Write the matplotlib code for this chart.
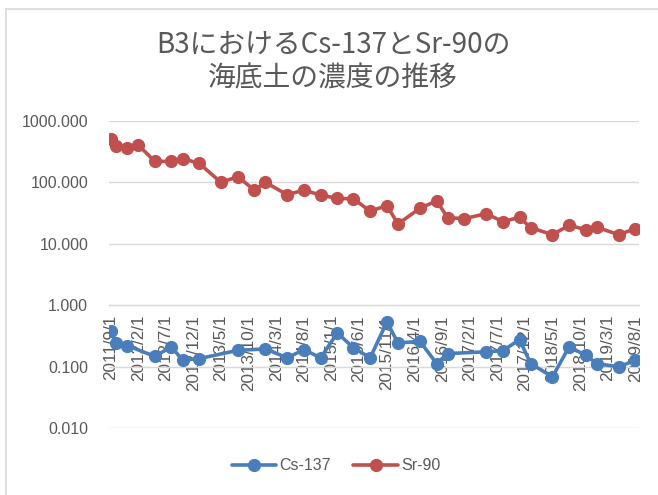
import matplotlib
matplotlib.use("Agg")
import matplotlib.pyplot as plt
import matplotlib.ticker as mticker
from matplotlib.lines import Line2D
import numpy as np
import pandas as pd

# Data
dates = ["2011-09-01", "2011-10-01", "2011-12-01", "2012-02-01", "2012-05-01",
         "2012-08-01", "2012-10-01", "2013-01-01", "2013-05-01", "2013-08-01",
         "2013-11-01", "2014-01-01", "2014-05-01", "2014-08-01", "2014-11-01",
         "2015-02-01", "2015-05-01", "2015-08-01", "2015-11-01", "2016-01-01",
         "2016-05-01", "2016-08-01", "2016-10-01", "2017-01-01", "2017-05-01",
         "2017-08-01", "2017-11-01", "2018-01-01", "2018-05-01", "2018-08-01",
         "2018-11-01", "2019-01-01", "2019-05-01", "2019-08-01"]
cs137 = [0.376, 0.243, 0.22, np.nan, 0.147, 0.21, 0.127, 0.135, np.nan, 0.184,
         np.nan, 0.194, 0.139, 0.189, 0.139, 0.354, 0.202, 0.139, 0.535, 0.243,
         0.258, 0.112, 0.163, np.nan, 0.174, 0.182, 0.275, 0.112, 0.068, 0.21,
         0.153, 0.112, 0.099, 0.127]
sr90 = [500, 390, 357, 405, 220, 220, 245, 204, 100, 124,
        75, 100, 63, 75, 62, 55, 54, 34, 42, 21,
        38, 50, 26.6, 25.7, 31, 23, 27, 18.3, 14.1, 20,
        17, 18.6, 14.1, 17.6]
tick_labels = ["2011/9/1", "2012/2/1", "2012/7/1", "2012/12/1", "2013/5/1",
               "2013/10/1", "2014/3/1", "2014/8/1", "2015/1/1", "2015/6/1",
               "2015/11/1", "2016/4/1", "2016/9/1", "2017/2/1", "2017/7/1",
               "2017/12/1", "2018/5/1", "2018/10/1", "2019/3/1", "2019/8/1"]
title = "B3におけるCs-137とSr-90の\n海底土の濃度の推移"

text_color = "#595959"
grid_color = "#d9d9d9"
blue = "#4a7ebb"
red = "#c0504d"

df = pd.DataFrame({"date": pd.to_datetime(dates), "cs": cs137, "sr": sr90})
cs = df.dropna(subset=["cs"])
ticks = pd.to_datetime(tick_labels, format="%Y/%m/%d")

fig = plt.figure(figsize=(6.58, 4.95), dpi=100)
ax = fig.add_axes([109/658, 1 - 428/495, 530/658, 307/495])

ax.plot(cs["date"], cs["cs"], color=blue, lw=2.6, marker="o", ms=8.5,
        label="Cs-137", solid_capstyle="round")
ax.plot(df["date"], df["sr"], color=red, lw=2.6, marker="o", ms=8.5,
        label="Sr-90", solid_capstyle="round")

ax.set_yscale("log")
ax.set_ylim(0.01, 1000)
ax.yaxis.set_major_locator(mticker.LogLocator(base=10, numticks=10))
ax.yaxis.set_minor_locator(mticker.NullLocator())
ax.yaxis.set_major_formatter(mticker.FuncFormatter(lambda v, p: f"{v:.3f}"))

ax.set_xlim(df["date"].iloc[0] - pd.Timedelta(days=9),
            df["date"].iloc[-1] + pd.Timedelta(days=20))
ax.set_xticks(ticks)
ax.set_xticklabels(tick_labels)

# horizontal axis crosses at 1
for s in ["top", "right", "left"]:
    ax.spines[s].set_visible(False)
ax.spines["bottom"].set_position(("data", 1))
ax.spines["bottom"].set_color(grid_color)
ax.spines["bottom"].set_zorder(0)

ax.yaxis.grid(True, color=grid_color, lw=1)
ax.set_axisbelow(True)
ax.tick_params(axis="both", length=0, colors=text_color)
ax.tick_params(axis="y", pad=15, labelsize=11.5)
ax.tick_params(axis="x", pad=7, labelrotation=90, labelsize=12.3)
for lab in ax.get_xticklabels():
    lab.set_fontfamily("Liberation Sans")
    lab.set_verticalalignment("top")
    lab.set_horizontalalignment("center")
for lab in ax.get_yticklabels():
    lab.set_fontfamily("Liberation Sans")

fig.text(0.506, 1 - 61.5/495, title, ha="center", va="center", fontsize=20,
         color=text_color, family="Noto Sans CJK JP", linespacing=1.2)

leg = fig.legend(loc="center", bbox_to_anchor=(336/658, 1 - 466/495), ncol=2,
                 frameon=False, handlelength=2.8, columnspacing=1.4,
                 handletextpad=0.2, prop={"family": "Liberation Sans", "size": 11.5})
for t in leg.get_texts():
    t.set_color(text_color)

# chart border (left and top edges visible)
fig.add_artist(Line2D([6/658, 6/658], [0, 1 - 9/495], color=grid_color, lw=1.2))
fig.add_artist(Line2D([6/658, 1], [1 - 9/495, 1 - 9/495], color=grid_color, lw=1.2))

fig.savefig("out.png", dpi=100)
